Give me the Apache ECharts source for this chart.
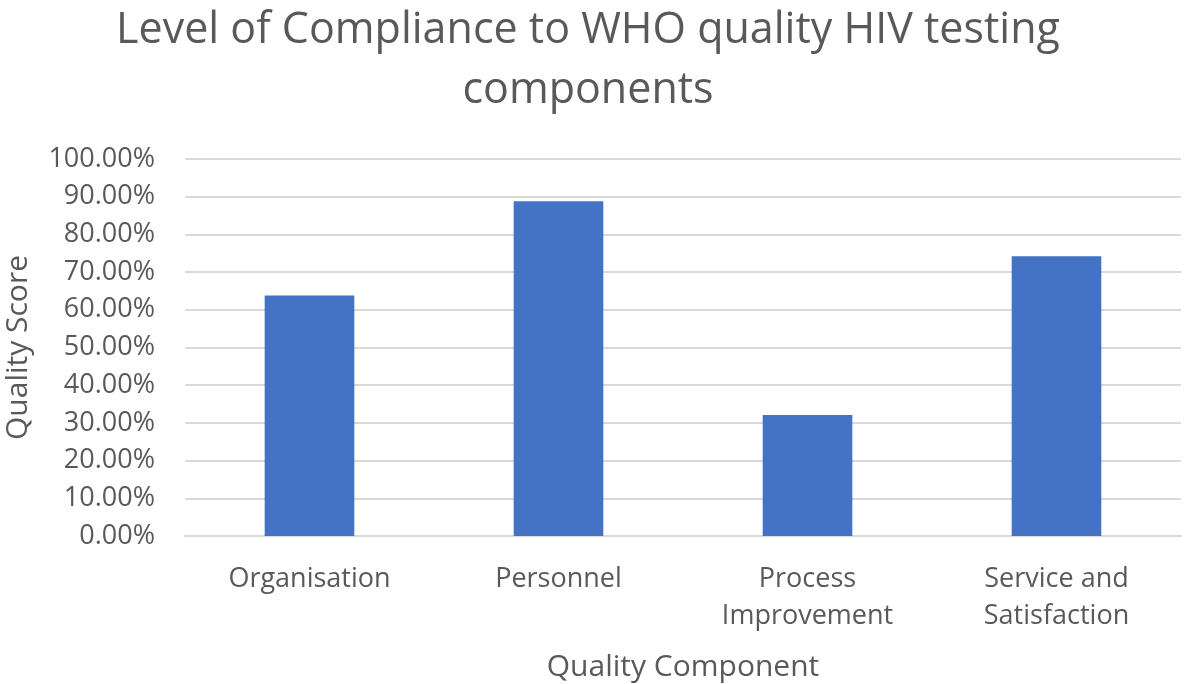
<!DOCTYPE html>
<html><head><meta charset="utf-8">
<script src="https://cdn.jsdelivr.net/npm/echarts@6/dist/echarts.min.js"></script>
<style>html,body{margin:0;padding:0;background:#fff}#c{width:1184px;height:684px}</style>
</head><body><div id="c"></div>
<script>
const categories = ['Organisation', 'Personnel', 'Process\nImprovement', 'Service and\nSatisfaction'];
const scores = [0.638, 0.888, 0.321, 0.742];
const yTicks = { min: 0, max: 1, interval: 0.1 };
const FONT = '"Open Sans", "Liberation Sans", sans-serif';
const GREY = '#595959';
const chart = echarts.init(document.getElementById('c'));
chart.setOption({
  animation: false,
  title: {
    text: 'Level of Compliance to WHO quality HIV testing\ncomponents',
    left: 583, textAlign: 'center', top: -4,
    textStyle: { fontFamily: FONT, fontSize: 43, fontWeight: 'normal', color: GREY, lineHeight: 60 }
  },
  grid: { left: 185, right: 3, top: 159, bottom: 684 - 536, containLabel: false, outerBoundsMode: 'none' },
  xAxis: {
    type: 'category', data: categories,
    name: 'Quality Component', nameLocation: 'middle', nameGap: 116,
    nameTextStyle: { fontFamily: FONT, fontSize: 30, color: GREY },
    axisLine: { lineStyle: { color: '#d9d9d9', width: 2 } },
    axisTick: { show: false },
    axisLabel: { fontFamily: FONT, fontSize: 27, color: GREY, margin: 25, lineHeight: 37 }
  },
  yAxis: {
    type: 'value', min: yTicks.min, max: yTicks.max, interval: yTicks.interval,
    name: 'Quality Score', nameLocation: 'middle', nameGap: 152,
    nameTextStyle: { fontFamily: FONT, fontSize: 30, color: GREY },
    axisLine: { show: false }, axisTick: { show: false },
    splitLine: { lineStyle: { color: '#d9d9d9', width: 2 } },
    axisLabel: { fontFamily: FONT, fontSize: 27, color: GREY, margin: 30,
      formatter: v => (v * 100).toFixed(2) + '%' }
  },
  series: [{
    type: 'bar', data: scores, barCategoryGap: '64%',
    itemStyle: { color: '#4472c4' }
  }]
});
</script></body></html>
